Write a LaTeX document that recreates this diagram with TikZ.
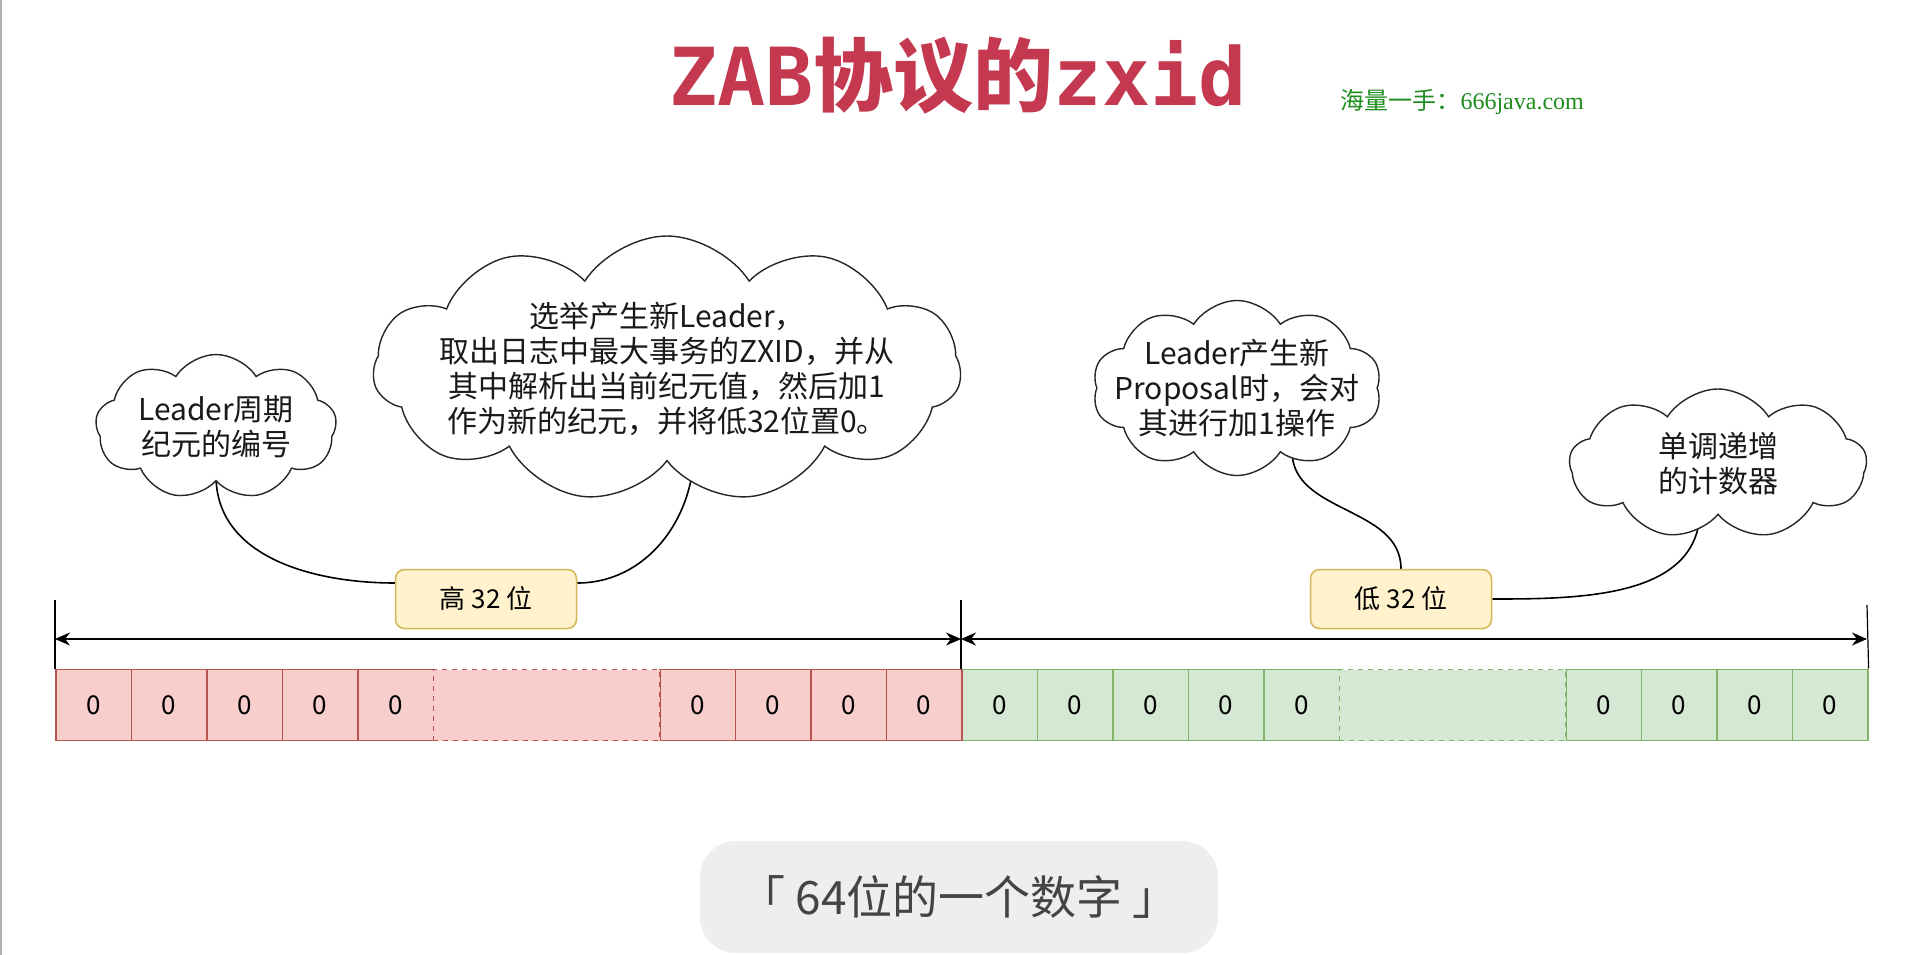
\documentclass[tikz,border=0pt]{standalone}
\usepackage{fontspec}
\setmainfont{Noto Sans CJK SC}
\newfontfamily\monofont{DejaVu Sans Mono}
\newfontfamily\serfont{Liberation Serif}
\usetikzlibrary{shapes.symbols,arrows.meta,backgrounds}

\definecolor{titlered}{RGB}{196,57,80}
\definecolor{markgreen}{RGB}{30,140,30}
\definecolor{hifill}{HTML}{F8CECC}
\definecolor{hidraw}{HTML}{B85450}
\definecolor{lofill}{HTML}{D5E8D4}
\definecolor{lodraw}{HTML}{82B366}
\definecolor{tagfill}{HTML}{FFF2CC}
\definecolor{tagdraw}{HTML}{D6B656}
\definecolor{capfill}{HTML}{EEEEEE}
\definecolor{captext}{HTML}{444444}

\tikzset{
  puff/.style={cloud, cloud puffs=#1, cloud puff arc=115, cloud ignores aspect,
    draw=black!85, line width=1.4pt, fill=white, align=center, inner sep=-20pt,
    text=black!90, font=\fontsize{30}{35}\selectfont},
  puff/.default=10,
  bit/.style={line width=1.6pt, minimum width=75.5pt, minimum height=71pt,
    inner sep=0pt, anchor=west, font=\fontsize{26}{26}\selectfont},
  hibit/.style={bit, draw=hidraw, fill=hifill},
  lobit/.style={bit, draw=lodraw, fill=lofill},
  gap/.style={minimum width=226.5pt, dash pattern=on 5pt off 5pt},
  tag/.style={draw=tagdraw, fill=tagfill, line width=1.5pt, rounded corners=9pt,
    minimum width=181pt, minimum height=59pt, font=\fontsize{26}{26}\selectfont},
  link/.style={line width=1.6pt, black},
  span/.style={line width=2pt, {Stealth[length=15pt,width=13pt]}-{Stealth[length=15pt,width=13pt]}},
}

\begin{document}
\begin{tikzpicture}[x=1pt, y=-1pt]
  \useasboundingbox (0,0) rectangle (1920,955);
  \draw[gray!60, line width=1.5pt] (1,0) -- (1,955);

  % title and mark
  \node[text=titlered, font=\fontsize{80}{80}\selectfont\bfseries] (title) at (958,76)
    {{\monofont\bfseries ZAB}协议的{\monofont\bfseries zxid}};
  \node[text=markgreen, font=\fontsize{24}{24}\selectfont, anchor=west] (mark) at (1337,102)
    {海量一手：{\serfont 666java.com}};

  % the 64 bits
  \foreach \i in {0,...,4,8,9,10,11} {
    \node[hibit] (hi\i) at ({55+75.5*\i},705) {0};
    \node[lobit] (lo\i) at ({961+75.5*\i},705) {0};
  }
  \node[hibit, gap] (higap) at (432.5,705) {};
  \node[lobit, gap] (logap) at (1338.5,705) {};

  % spans
  \coordinate (t0) at (55,600);
  \coordinate (t1) at (961,600);
  \coordinate (t2) at (1867,605);
  \coordinate (a0) at (55,639);
  \coordinate (a1) at (961,639);
  \coordinate (a2) at (1867,639);
  \draw[line width=1.2pt] (t0) -- (hi0.north west);
  \draw[line width=1.2pt] (t1) -- (lo0.north west);
  \draw[line width=1.2pt] (t2) -- (lo11.north east);
  \draw[span] (a0) -- (a1);
  \draw[span] (a1) -- (a2);

  \node[tag] (hitag) at (486,599) {高 32 位};
  \node[tag] (lotag) at (1401,599) {低 32 位};

  % clouds
  \node[puff=9, minimum width=241pt, minimum height=145pt] (epoch) at (216,427)
    {Leader周期\\纪元的编号};
  \node[puff=11, minimum width=588pt, minimum height=266pt] (elect) at (667,369)
    {选举产生新Leader，\\取出日志中最大事务的ZXID，并从\\其中解析出当前纪元值，然后加1\\作为新的纪元，并将低32位置0。};
  \node[puff=10, minimum width=282pt, minimum height=175pt] (propose) at (1237,388)
    {Leader产生新\\Proposal时，会对\\其进行加1操作};
  \node[puff=9, minimum width=297pt, minimum height=150pt] (counter) at (1718,464)
    {单调递增\\的计数器};

  \begin{scope}[on background layer]
    \fill[white] (0,0) rectangle (1920,955);
    \draw[link] ([yshift=6pt]epoch.south) to[out=-90, in=180] ([yshift=16pt]hitag.west);
    \draw[link] ([xshift=27pt, yshift=12pt]elect.south) to[out=-90, in=0] ([yshift=16pt]hitag.east);
    \draw[link] ([xshift=55pt, yshift=25pt]propose.south) to[out=-90, in=90] (lotag.north);
    \draw[link] ([xshift=-18pt, yshift=6pt]counter.south) to[out=-90, in=0] (lotag.east);
  \end{scope}

  % caption
  \node[fill=capfill, rounded corners=36pt, minimum width=518pt, minimum height=112pt,
    text=captext, font=\fontsize{46}{46}\selectfont] (caption) at (959,897)
    {「 64位的一个数字 」};
\end{tikzpicture}
\end{document}
